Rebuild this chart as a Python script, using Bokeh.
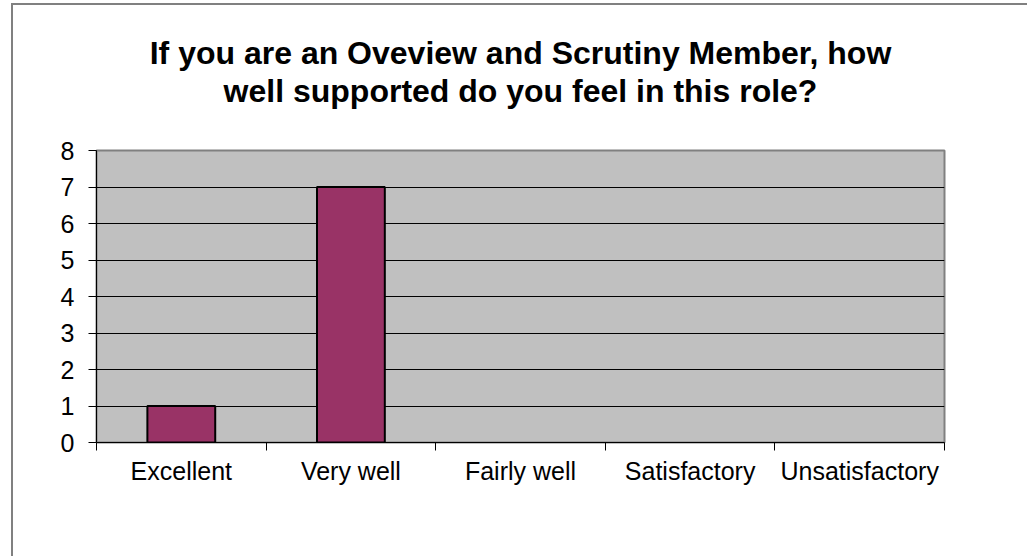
from bokeh.plotting import figure
from bokeh.models import FixedTicker, Title, Range1d, InlineStyleSheet
from bokeh.embed import file_html
from bokeh.resources import INLINE

categories = ["Excellent", "Very well", "Fairly well", "Satisfactory", "Unsatisfactory"]
counts = [1, 7, 0, 0, 0]
y_ticks = [0, 1, 2, 3, 4, 5, 6, 7, 8]
title_lines = ["If you are an Oveview and Scrutiny Member, how",
               "well supported do you feel in this role?"]

FONT = "Liberation Sans"

centers = [i + 0.5 for i in range(len(categories))]
bounds = list(range(len(categories) + 1))

border_css = InlineStyleSheet(css="""
:host { position: relative; }
:host::after {
  content: ''; position: absolute; left: 11px; top: 3px; right: 0; bottom: 0;
  border-left: 2px solid #808080; border-top: 2px solid #808080;
  pointer-events: none; z-index: 10;
}
""")

p = figure(width=1027, height=556, output_backend="svg", toolbar_location=None,
           x_range=Range1d(0, len(categories)), y_range=Range1d(0, 8),
           min_border_left=96, min_border_right=83, min_border_top=150, min_border_bottom=114,
           stylesheets=[border_css])
p.title = None

# spacer between frame and title (first added sits closest to the frame)
p.add_layout(Title(text=" ", text_font_size="1px", standoff=39), "above")
p.add_layout(Title(text=title_lines[1], align="center", text_font=FONT, text_font_size="32px",
                   text_font_style="bold", text_color="black", offset=6,
                   standoff=0), "above")
p.add_layout(Title(text=title_lines[0], align="center", text_font=FONT, text_font_size="32px",
                   text_font_style="bold", text_color="black", offset=6,
                   standoff=0), "above")

p.background_fill_color = "#C0C0C0"
p.border_fill_color = "white"
p.outline_line_color = "#808080"
p.outline_line_width = 2

xs = [c for c, v in zip(centers, counts) if v > 0]
tops = [v for v in counts if v > 0]
p.vbar(x=xs, top=tops, width=0.4, bottom=0, fill_color="#993366",
       line_color="black", line_width=2)

# axes
p.xaxis.ticker = FixedTicker(ticks=centers, minor_ticks=bounds)
p.xaxis.major_label_overrides = {c: lab for c, lab in zip(centers, categories)}
p.xaxis.major_tick_out = 0
p.xaxis.major_tick_in = 0
p.xaxis.minor_tick_out = 8
p.xaxis.minor_tick_in = 0
p.xaxis.minor_tick_line_color = "black"
p.xaxis.axis_line_color = "black"
p.xaxis.axis_line_width = 1
p.xaxis.major_label_text_font = FONT
p.xaxis.major_label_text_font_size = "25px"
p.xaxis.major_label_text_color = "black"
p.xaxis.major_label_standoff = 6

p.yaxis.ticker = FixedTicker(ticks=y_ticks)
p.yaxis.major_tick_out = 8
p.yaxis.major_tick_in = 0
p.yaxis.minor_tick_line_color = None
p.yaxis.major_tick_line_color = "black"
p.yaxis.axis_line_color = "black"
p.yaxis.major_label_text_font = FONT
p.yaxis.major_label_text_font_size = "25px"
p.yaxis.major_label_text_color = "black"
p.yaxis.major_label_standoff = 14

p.xgrid.grid_line_color = None
p.ygrid.ticker = FixedTicker(ticks=y_ticks[1:-1])
p.ygrid.grid_line_color = "black"
p.ygrid.grid_line_width = 1

open("out.html", "w").write(file_html(p, INLINE))
